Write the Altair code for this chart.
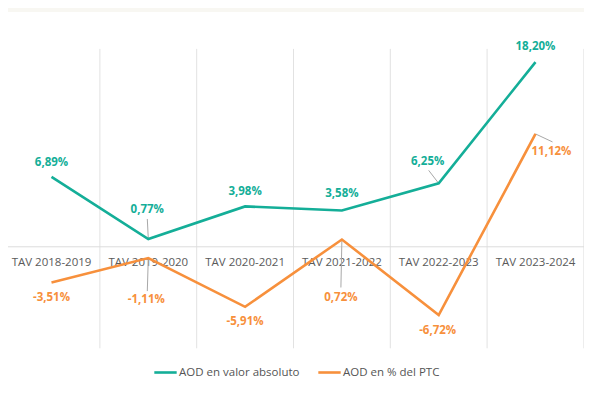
import altair as alt
import pandas as pd

categories = ["TAV 2018-2019", "TAV 2019-2020", "TAV 2020-2021",
              "TAV 2021-2022", "TAV 2022-2023", "TAV 2023-2024"]
absoluto = [6.89, 0.77, 3.98, 3.58, 6.25, 18.20]
ptc = [-3.51, -1.11, -5.91, 0.72, -6.72, 11.12]
series_names = ["AOD en valor absoluto", "AOD en % del PTC"]
colors = ["#14ae98", "#f7903c"]

# label placement (pixel offsets from the point) and leader line ends
abs_label_off = [(0, -14), (-1, -29), (0, -14), (0, -16), (-11, -21), (0, -15)]
abs_leader = [None, (-1, -20), None, None, (-10, -13), None]
ptc_label_off = [(0, 16), (-2, 42), (0, 15), (-1, 59), (-1, 16), (16, 18)]
ptc_leader = [None, (-1, 33), None, (-1, 48), None, (17, 8)]

W, H = 576, 375
PX_X = 96.8     # pixels per category
PX_Y = 10.15    # pixels per percentage point
X0 = 43.5       # pixel of first category center
Y0 = 234.8      # pixel of zero
x_dom = [-X0 / PX_X, (W - X0) / PX_X]
y_dom = [-(H - Y0) / PX_Y, Y0 / PX_Y]

FONT = "Open Sans"

def fmt(v):
    return f"{v:.2f}".replace(".", ",") + "%"

rows, labels, leaders = [], [], []
for s, vals, offs, leads in [(series_names[0], absoluto, abs_label_off, abs_leader),
                             (series_names[1], ptc, ptc_label_off, ptc_leader)]:
    for i, v in enumerate(vals):
        rows.append({"i": i, "v": v, "serie": s})
        dx, dy = offs[i]
        labels.append({"lx": i + dx / PX_X, "ly": v - dy / PX_Y, "txt": fmt(v), "serie": s})
        if leads[i] is not None:
            ex, ey = leads[i]
            leaders.append({"x": i, "y": v, "x2": i + ex / PX_X, "y2": v - ey / PX_Y})

df = pd.DataFrame(rows)
lab_df = pd.DataFrame(labels)
lead_df = pd.DataFrame(leaders)
cat_df = pd.DataFrame({"i": list(range(len(categories))), "cat": categories})
grid_df = pd.DataFrame({"g": [k + 0.5 for k in range(len(categories))], "lo": -10, "hi": 19.5})

xs = alt.Scale(domain=x_dom, nice=False, zero=False)
ys = alt.Scale(domain=y_dom, nice=False, zero=False)

grid = alt.Chart(grid_df).mark_rule(color="#e2e2e2", strokeWidth=1).encode(
    x=alt.X("g:Q", scale=xs, axis=None),
    y=alt.Y("lo:Q", scale=ys, axis=None),
    y2="hi:Q",
)
zero = alt.Chart(pd.DataFrame({"z": [0]})).mark_rule(color="#dcdcdc", strokeWidth=1).encode(
    y=alt.Y("z:Q", scale=ys, axis=None)
)
cats = alt.Chart(cat_df).mark_text(font=FONT, fontSize=11.5, color="#5a5a5a", dy=16,
                                   baseline="middle").encode(
    x=alt.X("i:Q", scale=xs, axis=None),
    y=alt.Y("zz:Q", scale=ys, axis=None),
    text="cat:N",
).transform_calculate(zz="0")

lines = alt.Chart(df).mark_line(strokeWidth=2.6, strokeJoin="miter").encode(
    x=alt.X("i:Q", scale=xs, axis=None),
    y=alt.Y("v:Q", scale=ys, axis=None),
    color=alt.Color("serie:N", scale=alt.Scale(domain=series_names, range=colors),
                    sort=series_names,
                    legend=alt.Legend(title=None, orient="none", legendX=145, legendY=348,
                                      direction="horizontal", symbolType="stroke",
                                      symbolSize=500, symbolStrokeWidth=2.6,
                                      labelFont=FONT, labelFontSize=11.5, labelColor="#555555",
                                      labelOffset=1, columnPadding=13)),
    detail="serie:N",
)

leads = alt.Chart(lead_df).mark_rule(color="#a8a8a8", strokeWidth=1).encode(
    x=alt.X("x:Q", scale=xs, axis=None),
    y=alt.Y("y:Q", scale=ys, axis=None),
    x2="x2:Q",
    y2="y2:Q",
)

texts = []
for s, c in zip(series_names, colors):
    texts.append(
        alt.Chart(lab_df).transform_filter(alt.datum.serie == s).mark_text(
            font=FONT, fontSize=11.5, fontWeight="bold", color=c, baseline="middle"
        ).encode(
            x=alt.X("lx:Q", scale=xs, axis=None),
            y=alt.Y("ly:Q", scale=ys, axis=None),
            text="txt:N",
        )
    )

chart = alt.layer(grid, zero, cats, leads, lines, *texts).properties(
    width=W, height=H,
    padding={"left": 0, "top": 4, "right": 0, "bottom": 0},
    autosize=alt.AutoSizeParams(type="none"),
    background="#f8f7f2",
).configure_view(fill="white", stroke=None)

chart.save("out.html", embed_options={"renderer": "svg", "actions": False})
